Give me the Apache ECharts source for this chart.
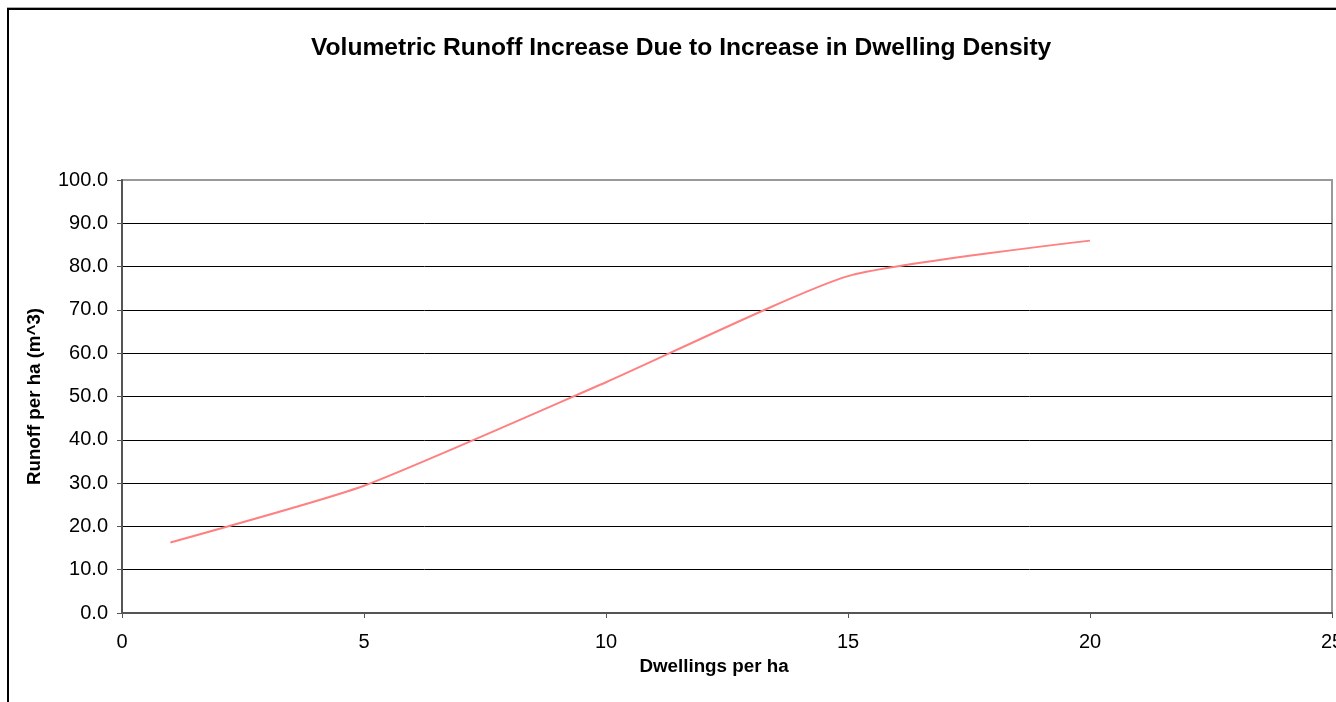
<!DOCTYPE html>
<html>
<head>
<meta charset="utf-8">
<script src="https://cdn.jsdelivr.net/npm/echarts@6/dist/echarts.min.js"></script>
<style>
  html, body { margin: 0; padding: 0; background: #fff; }
  #frame { position: absolute; left: 7px; top: 8px; width: 1340px; height: 700px;
           border-left: 2px solid #000; border-top: 2px solid #000; box-shadow: 0 -1px 0 #aaa; }
  #main { position: absolute; left: 0; top: 0; width: 1336px; height: 702px; }
</style>
</head>
<body>
<div id="frame"></div>
<div id="main"></div>
<script>
// dwellings per ha vs runoff per ha (m^3)
const dwellings = [1, 5, 10, 15, 20];
const runoff = [16.3, 29.4, 53.3, 77.8, 86.0];
const yTicks = 11;

const chart = echarts.init(document.getElementById("main"));
const splitColors = [];
for (let i = 0; i < yTicks; i++) splitColors.push(i === yTicks - 1 ? "#999" : "#000");

chart.setOption({
  animation: false,
  title: {
    text: "Volumetric Runoff Increase Due to Increase in Dwelling Density",
    left: 306,
    top: 31,
    textStyle: { fontFamily: "Liberation Sans", fontSize: 24.6, fontWeight: "bold", color: "#000" }
  },
  grid: {
    left: 122, right: 4, top: 180, bottom: 89,
    outerBoundsMode: "none",
    containLabel: false,
    show: true, borderColor: "#999", borderWidth: 2
  },
  xAxis: {
    type: "value",
    min: 0, max: 25, interval: 5,
    name: "Dwellings per ha",
    nameLocation: "middle",
    nameGap: 41,
    nameTextStyle: {
      fontFamily: "Liberation Sans", fontSize: 18.8, fontWeight: "bold", color: "#000",
      padding: [0, 26, 0, 0]
    },
    axisLine: { show: true, lineStyle: { color: "#555", width: 2 } },
    axisTick: { show: true, length: 5, lineStyle: { color: "#555" } },
    axisLabel: { fontFamily: "Liberation Sans", fontSize: 20, color: "#000", margin: 19 },
    splitLine: { show: false }
  },
  yAxis: {
    type: "value",
    min: 0, max: 100, interval: 10,
    name: "Runoff per ha (m^3)",
    nameLocation: "middle",
    nameGap: 78,
    nameTextStyle: { fontFamily: "Liberation Sans", fontSize: 18.7, fontWeight: "bold", color: "#000" },
    axisLine: { show: true, lineStyle: { color: "#555", width: 2 } },
    axisTick: { show: true, length: 5, lineStyle: { color: "#555" } },
    axisLabel: {
      fontFamily: "Liberation Sans", fontSize: 20, color: "#000", margin: 14,
      formatter: v => v.toFixed(1)
    },
    splitLine: { show: true, lineStyle: { color: splitColors, width: 1 } }
  },
  series: [{
    type: "line",
    data: dwellings.map((d, i) => [d, runoff[i]]),
    smooth: 0.18,
    showSymbol: false,
    lineStyle: { color: "#ff8080", width: 2 }
  }]
});
</script>
</body>
</html>
